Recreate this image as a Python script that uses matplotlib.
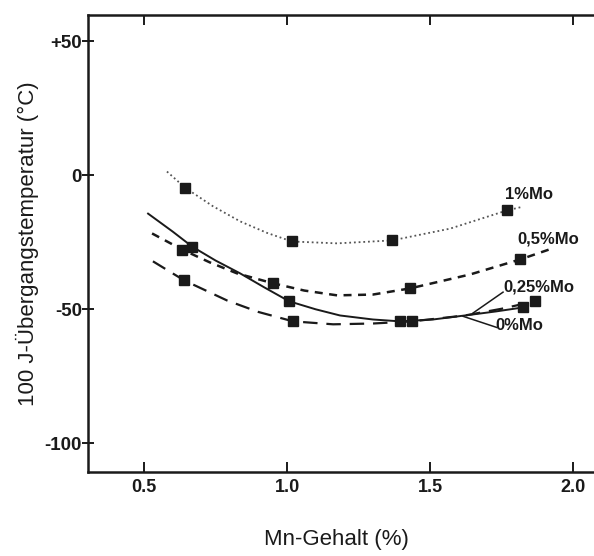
import matplotlib
matplotlib.use("Agg")
import matplotlib.pyplot as plt

# Curve traces (Mn %, transition temperature in C)
mo1_x = [0.58, 0.643, 0.74, 0.836, 0.93, 1.017, 1.175, 1.367, 1.57, 1.769, 1.825]
mo1_y = [1.4, -4.6, -11.5, -17.2, -21.5, -24.7, -25.4, -24.3, -19.9, -13.1, -11.7]
mo05_x = [0.528, 0.633, 0.73, 0.825, 0.951, 1.06, 1.175, 1.3, 1.43, 1.64, 1.815, 1.927]
mo05_y = [-21.7, -27.7, -32.5, -36.6, -40.3, -43.0, -44.8, -44.5, -42.2, -37.0, -31.4, -27.3]
mo025_x = [0.531, 0.64, 0.79, 0.9, 1.021, 1.161, 1.3, 1.437, 1.622, 1.75, 1.867]
mo025_y = [-32.1, -39.2, -46.7, -51.0, -54.5, -55.6, -55.3, -54.5, -52.3, -49.8, -47.0]
mo0_x = [0.514, 0.6, 0.668, 0.75, 0.836, 0.92, 1.007, 1.1, 1.185, 1.3, 1.395, 1.51, 1.622, 1.73, 1.825]
mo0_y = [-14.3, -21.0, -26.6, -31.8, -36.6, -41.8, -47.0, -50.0, -52.3, -53.8, -54.5, -53.8, -52.3, -50.8, -49.3]

# Measured points (squares)
pts1_x = [0.643, 1.017, 1.367, 1.769]
pts1_y = [-4.6, -24.7, -24.3, -13.1]
pts05_x = [0.633, 0.951, 1.43, 1.815]
pts05_y = [-27.7, -40.3, -42.2, -31.4]
pts025_x = [0.64, 1.021, 1.437, 1.867]
pts025_y = [-39.2, -54.5, -54.5, -47.0]
pts0_x = [0.668, 1.007, 1.395, 1.825]
pts0_y = [-26.6, -47.0, -54.5, -49.3]

xticks = [0.5, 1.0, 1.5, 2.0]
xtick_labels = ["0.5", "1.0", "1.5", "2.0"]
yticks = [50, 0, -50, -100]
ytick_labels = ["+50", "0", "-50", "-100"]

ink = "#1a1a1a"
plt.rcParams["font.family"] = ["Liberation Sans", "DejaVu Sans"]

fig = plt.figure(figsize=(5.94, 5.56), dpi=100)
ax = fig.add_axes([88 / 594, 1 - 472 / 556, 512 / 594, 457 / 556])

ax.plot(mo1_x, mo1_y, color="#555555", lw=1.3, linestyle=(0, (1, 1.6)))
ax.plot(mo05_x, mo05_y, color=ink, lw=1.8, linestyle=(0, (3.2, 2.6)))
ax.plot(mo025_x, mo025_y, color=ink, lw=1.6, linestyle=(0, (6.5, 4)))
ax.plot(mo0_x, mo0_y, color=ink, lw=1.4)

for px, py in [(pts1_x, pts1_y), (pts05_x, pts05_y), (pts025_x, pts025_y), (pts0_x, pts0_y)]:
    ax.plot(px, py, "s", color=ink, ms=7, linestyle="none")

# leader lines for the two lower labels
ax.plot([1.650, 1.755], [-51.4, -43.6], color=ink, lw=1.1)
ax.plot([1.615, 1.734], [-52.6, -56.8], color=ink, lw=1.1)

lab_kw = dict(fontsize=12, fontweight="bold", color=ink, va="center", ha="left")
ax.text(1.762, -7.2, "1%Mo", **lab_kw)
ax.text(1.804, -23.6, "0,5%Mo", **lab_kw)
ax.text(1.755, -41.5, "0,25%Mo", **lab_kw)
ax.text(1.727, -56.0, "0%Mo", **lab_kw)

ax.set_xlim(0.304, 2.094)
ax.set_ylim(-110.7, 59.8)
ax.set_xticks(xticks)
ax.set_xticklabels(xtick_labels, fontsize=13, fontweight="bold")
ax.set_yticks(yticks)
ax.set_yticklabels(ytick_labels, fontsize=13.5, fontweight="bold")
ax.tick_params(axis="x", direction="in", length=7, width=1.4, top=True, pad=5, colors=ink)
ax.tick_params(axis="y", direction="inout", length=9, width=1.4, right=True, pad=0, colors=ink)
for s in ax.spines.values():
    s.set_linewidth(1.8)
    s.set_color(ink)

ax.set_ylabel("100 J-Übergangstemperatur (°C)", fontsize=16, color=ink, labelpad=4)
fig.text(336 / 594, 1 - 540 / 556, "Mn-Gehalt (%)", fontsize=16, color=ink,
         ha="center", va="center")

fig.savefig("out.png", dpi=100)
